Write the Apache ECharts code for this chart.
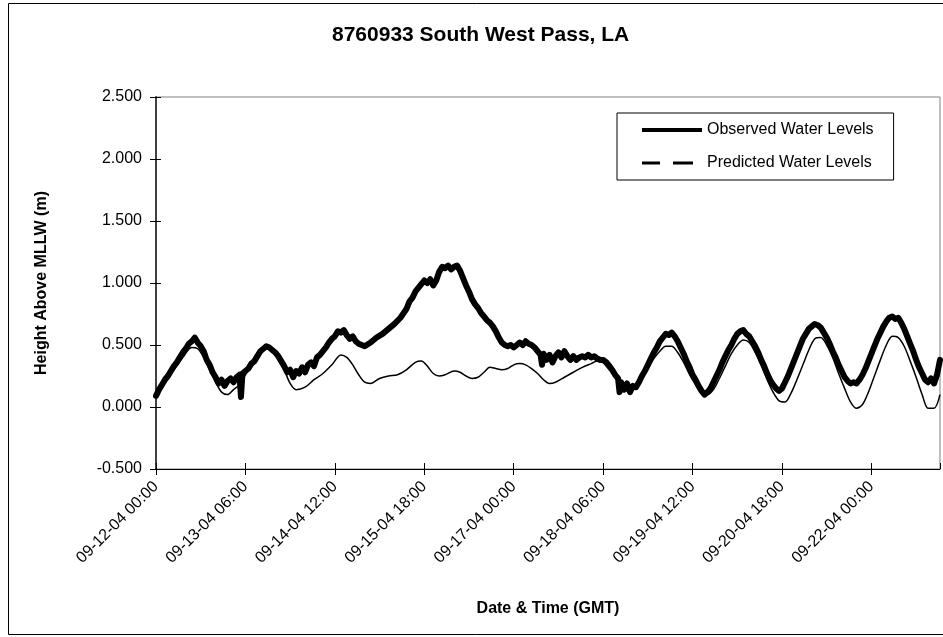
<!DOCTYPE html>
<html>
<head>
<meta charset="utf-8">
<script src="https://cdn.jsdelivr.net/npm/echarts@6/dist/echarts.min.js"></script>
<style>
html,body{margin:0;padding:0;background:#fff;}
#chart{width:943px;height:637px;}
</style>
</head>
<body>
<div id="chart"></div>
<script>
// ---- data (hours after 09-12-04 00:00 GMT) ----
const xTickLabels = ['09-12-04 00:00','09-13-04 06:00','09-14-04 12:00','09-15-04 18:00','09-17-04 00:00','09-18-04 06:00','09-19-04 12:00','09-20-04 18:00','09-22-04 00:00'];
const yTickValues = [-0.5, 0, 0.5, 1, 1.5, 2, 2.5];

const obsHours = [0,1,2,3,4,5,6,7,8,9,10,11,12,13,14,15,16,17,18,19,20,21,22,23,24,25,26,27,28,28.5,29,30,31,32,33,34,35,36,37,38,39,40,41,42,43,44,45,46,47,48,49,50,51,52,53,54,55,56,57,58,59,60,61,62,63,64,65,66,67,68,69,70,72,74,76,78,80,82,84,85,86,87,88,89,90,91,92,93,94,95,96,97,98,99,100,101,102,103,104,105,106,107,108,109,110,111,112,113,114,115,116,117,118,119,120,121,122,123,124,125,126,127,128,129,129.5,130,131,132,133,134,135,136,137,138,139,140,141,142,143,144,145,146,147,148,149,150,151,152,153,154,155,155.5,156,157,158,159,160,161,162,163,164,165,166,167,168,169,170,171,172,173,174,175,176,177,178,179,180,181,182,183,184,185,186,187,188,189,190,191,192,193,194,195,196,197,198,199,200,201,202,203,204,205,206,207,208,209,210,211,212,213,214,215,216,217,218,219,220,221,222,223,224,225,226,227,228,229,230,231,232,233,234,235,236,237,238,239,240,241,242,243,244,245,246,247,248,249,250,251,252,253,254,255,256,257,258,259,260,261,262,263];
const obsLevels = [0.09,0.14,0.18,0.22,0.25,0.29,0.33,0.36,0.40,0.44,0.47,0.51,0.53,0.56,0.52,0.49,0.45,0.38,0.34,0.28,0.24,0.19,0.22,0.17,0.21,0.23,0.20,0.24,0.26,0.08,0.27,0.29,0.31,0.35,0.37,0.41,0.45,0.47,0.49,0.48,0.46,0.44,0.41,0.37,0.33,0.28,0.30,0.24,0.29,0.27,0.32,0.28,0.34,0.36,0.33,0.40,0.42,0.45,0.48,0.52,0.55,0.57,0.61,0.60,0.62,0.58,0.55,0.57,0.53,0.51,0.50,0.49,0.52,0.56,0.59,0.63,0.67,0.72,0.79,0.85,0.88,0.93,0.96,0.99,1.02,1.00,1.03,0.98,1.02,1.09,1.13,1.12,1.14,1.11,1.13,1.14,1.10,1.04,0.98,0.93,0.87,0.83,0.80,0.76,0.73,0.70,0.68,0.65,0.61,0.56,0.52,0.50,0.49,0.50,0.48,0.50,0.52,0.50,0.53,0.51,0.50,0.48,0.45,0.42,0.34,0.43,0.38,0.42,0.36,0.41,0.44,0.40,0.45,0.41,0.38,0.41,0.38,0.40,0.41,0.40,0.42,0.40,0.41,0.39,0.38,0.38,0.36,0.33,0.30,0.26,0.23,0.12,0.20,0.14,0.19,0.12,0.17,0.16,0.20,0.25,0.29,0.34,0.39,0.44,0.48,0.53,0.56,0.59,0.58,0.60,0.57,0.53,0.48,0.43,0.37,0.32,0.26,0.22,0.17,0.13,0.10,0.12,0.15,0.20,0.25,0.30,0.36,0.41,0.46,0.50,0.55,0.59,0.61,0.62,0.59,0.57,0.53,0.49,0.44,0.38,0.33,0.27,0.22,0.18,0.15,0.13,0.15,0.20,0.25,0.31,0.37,0.43,0.49,0.55,0.59,0.63,0.65,0.67,0.66,0.64,0.60,0.56,0.51,0.45,0.40,0.34,0.29,0.24,0.21,0.19,0.20,0.19,0.22,0.26,0.31,0.37,0.43,0.49,0.55,0.60,0.65,0.69,0.72,0.73,0.71,0.72,0.68,0.63,0.57,0.51,0.45,0.38,0.32,0.27,0.22,0.20,0.23,0.19,0.26,0.38];

const predHours = [0,3,6,9,12,14,16,18,20,22,24,26,28,30,33,36,38,40,43,45,47,50,53,56,59,62,64,66,68,70,72,75,78,81,84,87,89,91,93,95,97,100,102,104,106,108,110,112,114,116,118,120,122,124,126,128,130,132,134,137,140,143,146,149,151,153,155,157,159,161,163,165,167,169,171,173,175,177,179,181,183,185,187,189,191,193,195,197,199,201,203,205,207,209,211,213,215,217,219,221,223,225,227,229,231,233,235,237,239,241,243,245,247,249,251,253,255,257,259,261,263];
const predLevels = [0.10,0.20,0.30,0.40,0.48,0.47,0.40,0.30,0.20,0.12,0.10,0.14,0.18,0.26,0.38,0.47,0.48,0.43,0.30,0.19,0.14,0.16,0.22,0.27,0.34,0.42,0.40,0.34,0.26,0.20,0.19,0.23,0.25,0.26,0.30,0.36,0.37,0.33,0.27,0.25,0.26,0.29,0.28,0.25,0.23,0.24,0.28,0.32,0.31,0.30,0.31,0.34,0.35,0.34,0.31,0.27,0.22,0.19,0.20,0.24,0.28,0.32,0.35,0.38,0.38,0.33,0.25,0.17,0.13,0.16,0.23,0.31,0.39,0.45,0.49,0.49,0.44,0.36,0.26,0.18,0.12,0.10,0.14,0.23,0.33,0.43,0.50,0.54,0.52,0.44,0.34,0.22,0.12,0.05,0.04,0.11,0.22,0.34,0.46,0.55,0.56,0.50,0.40,0.27,0.15,0.04,-0.01,0.02,0.12,0.25,0.38,0.50,0.57,0.56,0.49,0.37,0.24,0.10,-0.01,-0.01,0.10];

// ---- chart ----
const FONT = "'Liberation Sans', Arial, sans-serif";
const obsData = obsHours.map((h, i) => [h, obsLevels[i]]);
const predData = predHours.map((h, i) => [h, predLevels[i]]);

const xCommon = { type: 'value', min: 0, max: 263, interval: 30, position: 'bottom' };
const yCommon = { type: 'value', min: -0.5, max: 2.5, interval: 0.5, position: 'left' };

const chart = echarts.init(document.getElementById('chart'), null, { renderer: 'canvas' });
chart.setOption({
  animation: false,
  backgroundColor: '#ffffff',
  title: {
    text: '8760933 South West Pass, LA',
    left: 327, top: 20,
    textStyle: { fontFamily: FONT, fontSize: 21, fontWeight: 'bold', color: '#000' }
  },
  graphic: [{
    type: 'rect', left: 6, top: 1, silent: true,
    shape: { x: 0, y: 0, width: 960, height: 631 },
    style: { fill: 'none', stroke: '#000', lineWidth: 1 }
  }],
  legend: {
    orient: 'vertical', left: 617, top: 113,
    padding: [9, 20, 9, 25],
    borderColor: '#000', borderWidth: 1,
    itemGap: 17, itemWidth: 60, itemHeight: 16,
    symbolKeepAspect: false,
    textStyle: { fontFamily: FONT, fontSize: 16, color: '#000' },
    data: [
      { name: 'Observed Water Levels', icon: 'path://M0,6H60V10H0Z M0,0 M60,16' },
      { name: 'Predicted Water Levels', icon: 'path://M0,6.5H18V9.5H0Z M31,6.5H51V9.5H31Z M0,0 M60,16' }
    ]
  },
  grid: { left: 156, right: 3, top: 97, bottom: 168, show: true, borderColor: '#808080', borderWidth: 1 },
  xAxis: [
    Object.assign({}, xCommon, {
      name: 'Date & Time (GMT)', nameLocation: 'middle', nameGap: 132,
      nameTextStyle: { fontFamily: FONT, fontSize: 16, fontWeight: 'bold', color: '#000' },
      axisLine: { show: true, onZero: false, lineStyle: { color: '#000', width: 1 } },
      axisTick: { show: true, inside: false, length: 6, lineStyle: { color: '#000' } },
      splitLine: { show: false },
      axisLabel: {
        show: true, rotate: 45, margin: 15, showMaxLabel: false,
        fontFamily: FONT, fontSize: 16, color: '#000',
        formatter: v => { const i = Math.round(v / 30); return (Math.abs(v - i * 30) < 1e-6 && xTickLabels[i]) ? xTickLabels[i] : ''; }
      }
    }),
    Object.assign({}, xCommon, {
      axisLine: { show: false, onZero: false },
      axisTick: { show: true, inside: true, length: 6, lineStyle: { color: '#000' } },
      axisLabel: { show: false }, splitLine: { show: false }
    })
  ],
  yAxis: [
    Object.assign({}, yCommon, {
      name: 'Height Above MLLW (m)', nameLocation: 'middle', nameGap: 106,
      nameTextStyle: { fontFamily: FONT, fontSize: 16, fontWeight: 'bold', color: '#000' },
      axisLine: { show: true, onZero: false, lineStyle: { color: '#404040', width: 2 } },
      axisTick: { show: true, inside: false, length: 6, lineStyle: { color: '#000' } },
      splitLine: { show: false },
      axisLabel: {
        margin: 14, fontFamily: FONT, fontSize: 16, color: '#000',
        formatter: v => yTickValues.some(t => Math.abs(t - v) < 1e-9) ? v.toFixed(3) : ''
      }
    }),
    Object.assign({}, yCommon, {
      axisLine: { show: false, onZero: false },
      axisTick: { show: true, inside: true, length: 5, lineStyle: { color: '#000' } },
      axisLabel: { show: false }, splitLine: { show: false }
    })
  ],
  series: [
    {
      name: 'Observed Water Levels', type: 'line', xAxisIndex: 0, yAxisIndex: 0,
      data: obsData, showSymbol: false, symbol: 'none',
      color: '#000',
      lineStyle: { color: '#000', width: 6, join: 'round', cap: 'round' },
      z: 2
    },
    {
      name: 'Predicted Water Levels', type: 'line', xAxisIndex: 0, yAxisIndex: 0,
      data: predData, showSymbol: false, symbol: 'none', smooth: 0.3,
      color: '#000',
      lineStyle: { color: '#000', width: 1.5 },
      z: 3
    }
  ]
});
</script>
</body>
</html>
